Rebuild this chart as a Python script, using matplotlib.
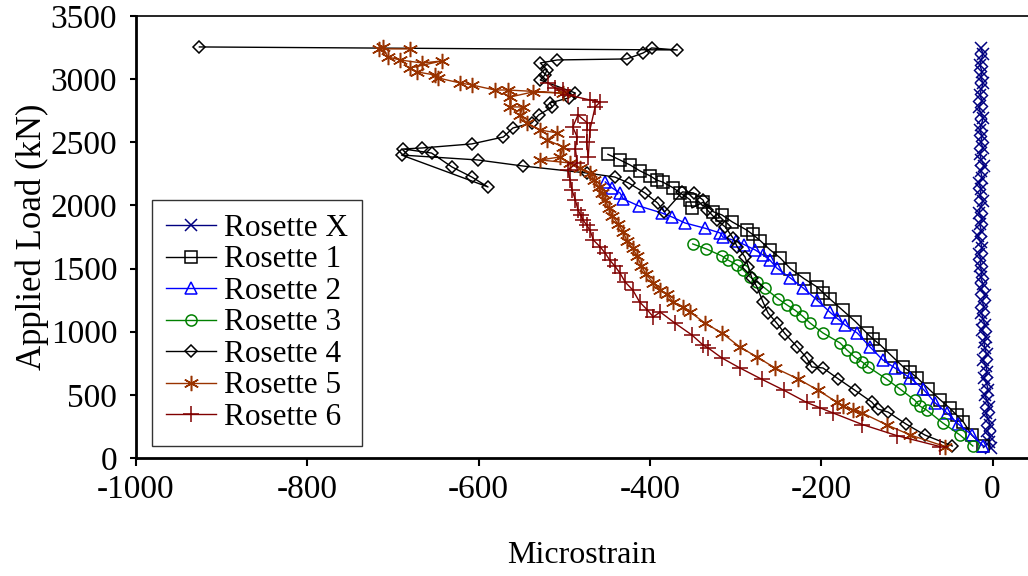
"""
Load vs. microstrain for the rosette gauges.
"""

import matplotlib
matplotlib.use("Agg")
import matplotlib.pyplot as plt

# Rosette X (hugs zero strain all the way up)
rx_load = [80, 125, 170, 215, 260, 310, 355, 400, 450, 495,
           540, 590, 635, 680, 730, 775, 820, 870, 915, 960,
           1010, 1055, 1100, 1150, 1195, 1240, 1290, 1335, 1380, 1430,
           1475, 1520, 1570, 1615, 1660, 1710, 1755, 1800, 1850, 1895,
           1940, 1990, 2035, 2080, 2130, 2175, 2220, 2270, 2315, 2360,
           2410, 2455, 2500, 2550, 2595, 2640, 2690, 2735, 2780, 2830,
           2875, 2920, 2970, 3015, 3060, 3110, 3155, 3200, 3250]
rx_strain = [-2, -4, -3, -6, -3, -5, -8, -4, -6, -9,
             -5, -7, -10, -6, -8, -11, -7, -9, -10, -8,
             -12, -9, -11, -13, -10, -12, -9, -13, -11, -14,
             -12, -15, -13, -16, -12, -14, -17, -13, -15, -12,
             -16, -14, -11, -15, -13, -16, -12, -14, -10, -13,
             -15, -11, -14, -12, -15, -13, -11, -14, -16, -12,
             -15, -13, -11, -14, -12, -15, -13, -11, -14]

r1_strain = [-11, -24, -34, -42, -50, -61, -75, -88, -96, -104, -118, -131, -140,
             -147, -160, -175, -190, -198, -205, -220, -236, -248, -260, -271,
             -280, -287, -304, -316, -326, -338, -351, -353, -365, -373, -385,
             -392, -400, -412, -423, -435, -449]
r1_load = [95, 180, 285, 340, 395, 460, 550, 635, 680, 720, 810, 895, 945,
           990, 1080, 1170, 1260, 1310, 1355, 1420, 1500, 1585, 1650, 1720,
           1770, 1805, 1870, 1925, 1950, 2025, 1980, 2045, 2100, 2140, 2185,
           2200, 2235, 2275, 2320, 2360, 2405]

r2_strain = [-11, -24, -40, -53, -67, -81, -96, -114, -128, -143,
             -158, -172, -182, -190, -205, -221, -236, -252, -260, -268,
             -277, -290, -300, -315, -318, -336, -359, -374, -386, -413,
             -431, -435, -444, -452]
r2_load = [95, 182, 269, 356, 436, 546, 633, 713, 776, 879,
           990, 1053, 1109, 1156, 1251, 1346, 1425, 1505, 1568, 1608,
           1647, 1690, 1720, 1750, 1782, 1820, 1861, 1908, 1940, 1996,
           2051, 2099, 2138, 2186]

r3_strain = [-23, -38, -58, -77, -85, -91, -108, -124, -145, -152,
             -161, -170, -178, -198, -213, -222, -231, -240, -250, -266,
             -275, -283, -291, -298, -309, -316, -334, -350]
r3_load = [95, 182, 277, 380, 412, 459, 546, 626, 721, 760,
           800, 855, 911, 990, 1069, 1125, 1172, 1212, 1259, 1346,
           1394, 1433, 1489, 1528, 1568, 1600, 1655, 1695]

r4_strain = [-47, -79, -101, -122, -134, -141, -161, -180, -198, -211,
             -217, -228, -242, -252, -262, -268, -275, -281, -285, -289,
             -298, -303, -312, -322, -333, -338, -349, -362,
             -383, -391, -406, -425, -441, -474, -548, -601, -690,
             -589, -608, -631, -655, -688, -666, -608, -571, -560,
             -538, -530, -514, -517, -495, -487, -528, -523, -520,
             -528, -508, -427, -408, -398, -368, -926]
r4_load = [95, 182, 269, 364, 388, 443, 538, 626, 713, 721,
           792, 879, 982, 1069, 1148, 1235, 1354, 1425, 1513, 1592,
           1671, 1742, 1829, 1885, 1964, 2043, 2099, 2107,
           1948, 2019, 2099, 2178, 2225, 2257, 2312, 2360, 2399,
           2146, 2225, 2304, 2415, 2447, 2455, 2487, 2542, 2613,
           2653, 2716, 2780, 2811, 2851, 2890, 2993, 3030, 3073,
           3128, 3152, 3160, 3207, 3247, 3231, 3255]

r5_strain = [-55, -96, -123, -152, -163, -175, -182, -204, -227, -254,
             -275, -295, -316, -336, -353, -361, -373, -380, -388, -396,
             -405, -410, -415, -420, -427, -431, -437, -444, -448, -452,
             -456, -460, -465, -470, -482, -493, -528, -505, -501, -520,
             -508, -528, -544, -552, -548, -563, -563, -537, -501, -566,
             -581, -608, -622, -647, -651, -672, -680, -643, -666, -692,
             -706, -712, -716, -680]
r5_load = [90, 182, 261, 356, 380, 410, 443, 538, 626, 713,
           800, 879, 990, 1069, 1156, 1196, 1235, 1300, 1330, 1386,
           1460, 1520, 1600, 1660, 1720, 1790, 1850, 1920, 1980, 2040,
           2100, 2146, 2200, 2257, 2300, 2336, 2360, 2384, 2463, 2518,
           2574, 2597, 2653, 2716, 2780, 2780, 2859, 2898, 2890, 2914,
           2914, 2954, 2970, 3009, 3033, 3057, 3088, 3144, 3128, 3152,
           3176, 3255, 3240, 3239]

r6_strain = [-61, -112, -152, -186, -201, -217, -244, -269, -295, -316,
             -332, -338, -351, -371, -388, -396, -403, -412, -420, -429,
             -435, -441, -447, -452, -458, -466, -470, -474, -478, -481,
             -484, -487, -491, -493, -496, -485, -487, -485, -490, -484,
             -473, -474, -472, -470, -464, -458, -470, -496, -501, -511,
             -519]
r6_load = [90, 178, 265, 356, 396, 440, 538, 622, 713, 792,
           871, 895, 974, 1069, 1156, 1117, 1172, 1235, 1330, 1394,
           1465, 1520, 1568, 1620, 1671, 1726, 1805, 1845, 1885, 1925,
           1964, 2043, 2122, 2201, 2281, 2336, 2450, 2542, 2621, 2716,
           2653, 2500, 2380, 2600, 2780, 2819, 2835, 2875, 2914, 2930,
           2970]

ASTERISK = (6, 2, 0)


def main():
    plt.rcParams['font.family'] = ['Liberation Serif', 'DejaVu Serif']
    plt.rcParams['axes.unicode_minus'] = False

    fig = plt.figure(figsize=(10.28, 5.76), dpi=100)
    ax = fig.add_axes([136 / 1028, 118 / 576, 892 / 1028, 442 / 576])

    series = [
        ("Rosette X", rx_strain, rx_load, "#000080", "x", 9),
        ("Rosette 1", r1_strain, r1_load, "black", "s", 8),
        ("Rosette 2", r2_strain, r2_load, "#0000FF", "^", 9),
        ("Rosette 3", r3_strain, r3_load, "#008000", "o", 8),
        ("Rosette 4", r4_strain, r4_load, "black", "D", 6),
        ("Rosette 5", r5_strain, r5_load, "#993300", ASTERISK, 11),
        ("Rosette 6", r6_strain, r6_load, "#800000", "+", 11),
    ]
    for label, xs, ys, col, mk, ms in series:
        ax.plot(xs, ys, color=col, lw=1.0, marker=mk, markersize=ms,
                markerfacecolor="none", markeredgecolor=col,
                markeredgewidth=1.1, label=label)

    ax.set_xlim(-1000, 41.4)
    ax.set_ylim(0, 3500)
    ax.set_xticks(range(-1000, 1, 200))
    ax.set_yticks(range(0, 3501, 500))

    ax.spines['right'].set_visible(False)
    ax.spines['left'].set_linewidth(2)
    ax.spines['bottom'].set_linewidth(2)
    ax.spines['top'].set_linewidth(1.2)
    ax.tick_params(axis='x', direction='out', length=6, width=1.5,
                   labelsize=24, pad=6)
    ax.tick_params(axis='y', direction='out', length=4.5, width=1.5,
                   labelsize=24, pad=9)

    ax.set_xlabel("Microstrain", fontsize=23, labelpad=26)
    ax.set_ylabel("Applied Load (kN)", fontsize=25, labelpad=1.5)

    leg = ax.legend(loc="lower left", bbox_to_anchor=(16 / 892, 12 / 442),
                    fontsize=22.5, frameon=True, fancybox=False, shadow=False,
                    handlelength=1.6, handletextpad=0.26, labelspacing=0.08,
                    borderpad=0.45, borderaxespad=0.0)
    leg.get_frame().set_edgecolor("black")
    leg.get_frame().set_linewidth(1.0)

    fig.savefig("out.png", dpi=100)


if __name__ == "__main__":
    main()
